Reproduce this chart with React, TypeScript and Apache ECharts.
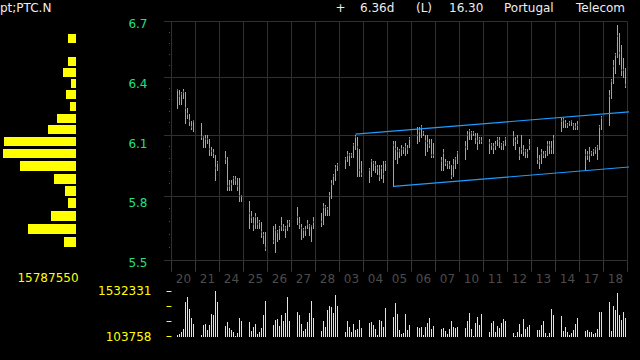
import React, { useEffect, useRef } from "react";
import * as echarts from "echarts";

// ---------- data ----------
const dayLabels = ["20", "21", "24", "25", "26", "27", "28", "03", "04", "05", "06", "07", "10", "11", "12", "13", "14", "17", "18"];
const BARS_PER_DAY = 9;

const highs = [
  6.34, 6.33, 6.32, 6.34, 6.32, 6.24, 6.21, 6.17, 6.18,
  6.16, 6.09, 6.10, 6.10, 6.08, 6.04, 6.03, 6.00, 5.97,
  6.02, 5.99, 5.88, 5.88, 5.90, 5.90, 5.89, 5.89, 5.80,
  5.78, 5.73, 5.70, 5.72, 5.70, 5.69, 5.68, 5.63, 5.63,
  5.66, 5.67, 5.64, 5.66, 5.70, 5.67, 5.66, 5.69, 5.69,
  5.75, 5.70, 5.67, 5.65, 5.66, 5.69, 5.67, 5.66, 5.70,
  5.72, 5.77, 5.76, 5.75, 5.82, 5.88, 5.91, 5.95, 5.96,
  5.99, 6.02, 6.01, 6.01, 6.06, 6.10, 6.09, 6.03, 5.97,
  5.94, 5.98, 5.97, 5.97, 5.95, 5.95, 5.95, 5.97, 5.97,
  6.07, 6.07, 6.04, 6.03, 6.05, 6.04, 6.06, 6.05, 6.09,
  6.14, 6.14, 6.15, 6.12, 6.10, 6.10, 6.08, 6.08, 6.06,
  5.99, 6.03, 5.98, 5.97, 5.97, 5.95, 5.98, 5.99, 6.02,
  6.07, 6.12, 6.13, 6.12, 6.12, 6.11, 6.11, 6.09, 6.09,
  6.08, 6.06, 6.06, 6.07, 6.09, 6.09, 6.06, 6.07, 6.09,
  6.12, 6.09, 6.10, 6.04, 6.10, 6.05, 6.03, 6.03, 6.08,
  6.04, 6.00, 6.03, 6.02, 6.02, 6.07, 6.07, 6.07, 6.10,
  6.19, 6.19, 6.18, 6.16, 6.17, 6.18, 6.16, 6.16, 6.17,
  6.03, 6.02, 6.04, 6.02, 6.03, 6.04, 6.05, 6.15, 6.20,
  6.33, 6.39, 6.49, 6.53, 6.68, 6.64, 6.57, 6.50, 6.45,
];

const lows = [
  6.24, 6.26, 6.26, 6.29, 6.16, 6.19, 6.15, 6.13, 6.12,
  6.08, 6.04, 6.04, 6.06, 6.00, 6.00, 5.99, 5.88, 5.93,
  5.96, 5.83, 5.83, 5.83, 5.86, 5.86, 5.83, 5.78, 5.78,
  5.65, 5.68, 5.64, 5.65, 5.65, 5.65, 5.61, 5.58, 5.55,
  5.58, 5.54, 5.59, 5.60, 5.64, 5.64, 5.61, 5.64, 5.66,
  5.67, 5.65, 5.60, 5.61, 5.62, 5.65, 5.62, 5.59, 5.65,
  5.66, 5.67, 5.71, 5.71, 5.71, 5.79, 5.86, 5.88, 5.93,
  5.94, 5.97, 5.95, 5.99, 5.99, 6.03, 5.90, 5.90, 5.90,
  5.87, 5.90, 5.93, 5.92, 5.91, 5.88, 5.89, 5.87, 5.93,
  5.85, 5.98, 5.96, 5.99, 6.00, 6.01, 6.00, 6.01, 6.04,
  6.06, 6.07, 6.09, 6.10, 6.00, 6.02, 6.04, 5.99, 5.99,
  5.93, 5.93, 5.95, 5.94, 5.94, 5.89, 5.90, 5.94, 5.96,
  5.98, 6.03, 6.08, 6.08, 6.10, 6.06, 6.03, 6.06, 6.06,
  6.01, 6.03, 6.01, 6.03, 6.05, 6.04, 6.03, 6.03, 6.05,
  6.05, 6.03, 6.06, 5.98, 6.01, 6.00, 5.99, 5.99, 6.03,
  5.96, 5.94, 5.96, 5.99, 5.99, 6.00, 6.01, 6.01, 6.01,
  6.12, 6.14, 6.14, 6.14, 6.15, 6.15, 6.13, 6.13, 6.13,
  5.93, 5.98, 5.97, 6.00, 6.00, 6.01, 5.98, 6.03, 6.13,
  6.15, 6.29, 6.37, 6.42, 6.51, 6.47, 6.41, 6.40, 6.35,
];

const closes = [
  6.33, 6.30, 6.31, 6.32, 6.24, 6.21, 6.17, 6.14, 6.17,
  6.09, 6.09, 6.08, 6.08, 6.03, 6.02, 6.01, 5.94, 5.96,
  5.98, 5.85, 5.85, 5.86, 5.89, 5.88, 5.85, 5.80, 5.80,
  5.72, 5.70, 5.67, 5.70, 5.67, 5.68, 5.63, 5.62, 5.56,
  5.59, 5.64, 5.63, 5.65, 5.66, 5.65, 5.65, 5.67, 5.68,
  5.70, 5.67, 5.65, 5.64, 5.64, 5.67, 5.66, 5.66, 5.68,
  5.68, 5.75, 5.75, 5.74, 5.80, 5.86, 5.90, 5.94, 5.95,
  5.98, 6.00, 6.00, 6.00, 6.05, 6.09, 6.04, 5.93, 5.91,
  5.93, 5.97, 5.96, 5.95, 5.94, 5.90, 5.94, 5.91, 5.96,
  6.05, 6.03, 6.02, 6.02, 6.03, 6.03, 6.04, 6.03, 6.08,
  6.10, 6.12, 6.14, 6.11, 6.07, 6.06, 6.05, 6.00, 6.00,
  5.97, 6.01, 5.96, 5.96, 5.95, 5.90, 5.95, 5.98, 6.01,
  6.04, 6.10, 6.12, 6.11, 6.11, 6.09, 6.07, 6.08, 6.07,
  6.06, 6.05, 6.04, 6.05, 6.08, 6.07, 6.05, 6.06, 6.08,
  6.09, 6.07, 6.08, 6.00, 6.03, 6.02, 6.02, 6.01, 6.05,
  5.98, 5.97, 6.01, 6.00, 6.01, 6.05, 6.05, 6.03, 6.08,
  6.17, 6.18, 6.16, 6.15, 6.16, 6.17, 6.15, 6.14, 6.15,
  6.00, 6.00, 6.00, 6.01, 6.02, 6.03, 6.04, 6.14, 6.19,
  6.30, 6.38, 6.46, 6.52, 6.62, 6.53, 6.44, 6.44, 6.36,
];

const volumes = [
  156000, 177000, 251000, 345000, 1196000, 1354000, 976000, 702000, 503000,
  156000, 471000, 503000, 314000, 471000, 818000, 786000, 1532331, 1196000,
  440000, 566000, 377000, 314000, 251000, 125000, 219000, 692000, 597000,
  566000, 282000, 408000, 503000, 188000, 251000, 377000, 786000, 1228000,
  471000, 629000, 660000, 440000, 786000, 597000, 850000, 1354000, 597000,
  881000, 786000, 503000, 282000, 345000, 566000, 850000, 1228000, 692000,
  282000, 597000, 408000, 944000, 1070000, 1039000, 850000, 1417000, 1070000,
  251000, 597000, 408000, 251000, 503000, 314000, 345000, 629000, 377000,
  534000, 566000, 471000, 345000, 156000, 629000, 597000, 408000, 1007000,
  723000, 1165000, 818000, 314000, 188000, 219000, 818000, 314000, 471000,
  408000, 377000, 408000, 156000, 408000, 534000, 692000, 345000, 440000,
  345000, 377000, 282000, 188000, 345000, 597000, 408000, 377000, 408000,
  377000, 597000, 850000, 345000, 135000, 534000, 723000, 471000, 818000,
  251000, 534000, 597000, 251000, 440000, 377000, 534000, 660000, 597000,
  219000, 125000, 251000, 503000, 188000, 660000, 345000, 408000, 471000,
  314000, 314000, 471000, 597000, 219000, 125000, 219000, 976000, 786000,
  755000, 282000, 408000, 251000, 156000, 219000, 314000, 503000, 692000,
  282000, 314000, 251000, 251000, 188000, 219000, 345000, 881000, 881000,
  1196000, 282000, 1070000, 944000, 1480000, 786000, 629000, 881000, 692000,
];

const priceTicks = [5.5, 5.8, 6.1, 6.4, 6.7];
const PRICE_MIN = 5.5;
const PRICE_MAX = 6.7;
const VOL_MIN = 103758;
const VOL_MAX = 1532331;
const volTicks = [103758, 579949, 1056140, 1532331];

const profileCenters = [5.58, 5.64, 5.70, 5.76, 5.82, 5.88, 5.94, 6.00, 6.06, 6.12, 6.18, 6.24, 6.30, 6.36, 6.42, 6.48, 6.54, 6.60];
const profileVolumes = [2595000, 10381000, 5407000, 1730000, 2379000, 4758000, 12111000, 15787550, 15571000, 6055000, 4109000, 1298000, 2163000, 1081000, 2811000, 1730000, 0, 1730000];
const PROFILE_BIN = 0.06;
const PROFILE_MAX = 15787550;

// channel lines: [time-axis position, price]
const upperChannel = [[184, 6.106], [465, 6.222]];
const lowerChannel = [[222, 5.848], [469, 5.947]];

// ---------- layout / style ----------
const DAY_W = 24;
const FIRST_OFF = 6;
const BAR_STEP = 2;
const X_SPAN = dayLabels.length * DAY_W;
const FONT = '"DejaVu Sans", sans-serif';
const GRID_C = "#303030";
const GREEN = "#22ee80";
const RED = "#ff3010";
const YELLOW = "#ffff00";
const LABEL_GREEN = "#22e080";
const BLUE = "#1e9cff";

const xOf = (i: number) =>
  Math.floor(i / BARS_PER_DAY) * DAY_W + FIRST_OFF + (i % BARS_PER_DAY) * BAR_STEP;
const L = Math.log;

export default function App() {
  const ref = useRef<HTMLDivElement>(null);
  useEffect(() => {
    if (!ref.current) return;
    const chart = echarts.init(ref.current, null, { renderer: "svg" });

    const minorTicks: number[][] = [];
    for (let t = 0; t < priceTicks.length - 1; t++) {
      for (let k = 1; k <= 4; k++) minorTicks.push([0, L(priceTicks[t] + 0.06 * k)]);
    }

    const left = 171.5;
    const option: any = {
      backgroundColor: "#000",
      animation: false,
      textStyle: { fontFamily: FONT },
      grid: [
        { left, top: 21.7, width: X_SPAN, height: 239 },
        { left, top: 24, width: X_SPAN, height: 239.1 },
        { left, top: 291.3, width: X_SPAN, height: 45.4 },
        { left: 3, top: 21.7, width: 73, height: 239 },
      ],
      xAxis: [
        {
          type: "category", gridIndex: 0, data: dayLabels, boundaryGap: true,
          axisLine: { show: false },
          axisTick: { show: true, length: 11, interval: 0, lineStyle: { color: "#383838" } },
          axisLabel: { interval: 0, color: "#4c4c4c", fontSize: 12, fontFamily: FONT, margin: 12 },
          splitLine: { show: true, interval: 0, lineStyle: { color: GRID_C, width: 1 } },
        },
        { type: "value", gridIndex: 0, min: 0, max: X_SPAN, show: false },
        { type: "value", gridIndex: 1, min: 0, max: 1, show: false },
        { type: "value", gridIndex: 2, min: 0, max: X_SPAN, show: false },
        { type: "value", gridIndex: 3, min: 0, max: PROFILE_MAX, inverse: true, show: false },
      ],
      yAxis: [
        { type: "value", gridIndex: 0, min: L(PRICE_MIN), max: L(PRICE_MAX), show: false },
        {
          type: "value", gridIndex: 1, min: 0, max: PRICE_MAX - PRICE_MIN, interval: 0.3,
          axisLine: { show: false }, axisTick: { show: false }, splitLine: { show: false },
          axisLabel: {
            color: LABEL_GREEN, fontSize: 12, fontFamily: FONT, margin: 24,
            formatter: (v: number) => (v + PRICE_MIN).toFixed(1),
          },
        },
        {
          type: "value", gridIndex: 2, min: VOL_MIN, max: VOL_MAX, offset: 2,
          axisLine: { show: false }, splitLine: { show: false },
          axisTick: { show: true, length: 5, customValues: volTicks, lineStyle: { color: YELLOW } },
          axisLabel: {
            customValues: [VOL_MIN, VOL_MAX], color: YELLOW, fontSize: 12, fontFamily: FONT, margin: 18,
            formatter: (v: number) => String(v),
          },
        },
        { type: "value", gridIndex: 3, min: L(PRICE_MIN), max: L(PRICE_MAX), show: false },
      ],
      series: [
        {
          type: "custom", xAxisIndex: 1, yAxisIndex: 0, silent: true, clip: false,
          data: priceTicks.map((p) => [0, L(p)]),
          encode: { x: 0, y: 1 },
          renderItem: (_p: any, api: any) => {
            const a = api.coord([0, api.value(1)]);
            const b = api.coord([X_SPAN, api.value(1)]);
            const y = Math.round(a[1] - 0.5) + 0.5;
            return { type: "line", shape: { x1: a[0] - 7.5, y1: y, x2: b[0], y2: y }, style: { stroke: GRID_C, lineWidth: 1 } };
          },
        },
        {
          type: "custom", xAxisIndex: 1, yAxisIndex: 0, silent: true, clip: false,
          data: minorTicks,
          encode: { x: 0, y: 1 },
          renderItem: (_p: any, api: any) => {
            const a = api.coord([0, api.value(1)]);
            return { type: "rect", shape: { x: Math.round(a[0]) - 3, y: Math.round(a[1]) - 1, width: 1, height: 1 }, style: { fill: "#4a4a4a" } };
          },
        },
        {
          type: "custom", xAxisIndex: 1, yAxisIndex: 0, silent: true,
          data: highs.map((h, i) => [xOf(i), L(h), L(lows[i]), L(closes[i])]),
          encode: { x: 0, y: [1, 2, 3] },
          renderItem: (_p: any, api: any) => {
            const x = api.value(0);
            const top = api.coord([x, api.value(1)]);
            const bot = api.coord([x, api.value(2)]);
            const cl = api.coord([x, api.value(3)]);
            const px = Math.round(top[0] - 0.5) + 0.5;
            return {
              type: "group",
              children: [
                { type: "line", shape: { x1: px, y1: Math.round(top[1]), x2: px, y2: Math.round(bot[1]) + 1 }, style: { stroke: GREEN, lineWidth: 1 } },
                { type: "rect", shape: { x: px - 0.5, y: Math.round(cl[1]) - 1, width: 1, height: 2 }, style: { fill: RED } },
              ],
            };
          },
        },
        {
          type: "line", xAxisIndex: 1, yAxisIndex: 0, silent: true, clip: false, symbol: "none",
          data: upperChannel.map(([x, p]) => [x, L(p)]),
          lineStyle: { color: BLUE, width: 1.2 },
        },
        {
          type: "line", xAxisIndex: 1, yAxisIndex: 0, silent: true, clip: false, symbol: "none",
          data: lowerChannel.map(([x, p]) => [x, L(p)]),
          lineStyle: { color: BLUE, width: 1.2 },
        },
        {
          type: "custom", xAxisIndex: 3, yAxisIndex: 2, silent: true,
          data: volumes.map((v, i) => [xOf(i), v]),
          encode: { x: 0, y: 1 },
          renderItem: (_p: any, api: any) => {
            const x = api.value(0);
            const top = api.coord([x, api.value(1)]);
            const base = api.coord([x, VOL_MIN]);
            const px = Math.round(top[0] - 0.5);
            const yt = Math.round(top[1]);
            return { type: "rect", shape: { x: px, y: yt, width: 1, height: Math.round(base[1]) - yt }, style: { fill: YELLOW } };
          },
        },
        {
          type: "custom", xAxisIndex: 4, yAxisIndex: 3, silent: true,
          data: profileCenters.map((c, i) => [profileVolumes[i], L(c + PROFILE_BIN / 2), L(c - PROFILE_BIN / 2)]),
          encode: { x: 0, y: [1, 2] },
          renderItem: (_p: any, api: any) => {
            if (!api.value(0)) return null;
            const a = api.coord([api.value(0), api.value(1)]);
            const b = api.coord([0, api.value(2)]);
            const y = Math.round(a[1]);
            const h = Math.round((b[1] - a[1]) * 0.78);
            const x = Math.round(a[0]);
            return { type: "rect", shape: { x, y, width: Math.round(b[0]) - x, height: h }, style: { fill: YELLOW } };
          },
        },
      ],
      graphic: [
        { type: "text", x: 0, y: 8, style: { text: "pt;PTC.N", fill: "#eeeeee", font: `12px ${FONT}`, verticalAlign: "middle", textVerticalAlign: "middle" } },
        { type: "text", x: 340.5, y: 8, style: { text: "+", fill: "#eeeeee", font: `12px ${FONT}`, align: "center", textAlign: "center", verticalAlign: "middle", textVerticalAlign: "middle" } },
        { type: "text", x: 360, y: 8, style: { text: "6.36d", fill: "#eeeeee", font: `12px ${FONT}`, verticalAlign: "middle", textVerticalAlign: "middle" } },
        { type: "text", x: 416, y: 8, style: { text: "(L)", fill: "#eeeeee", font: `12px ${FONT}`, verticalAlign: "middle", textVerticalAlign: "middle" } },
        { type: "text", x: 449, y: 8, style: { text: "16.30", fill: "#eeeeee", font: `12px ${FONT}`, verticalAlign: "middle", textVerticalAlign: "middle" } },
        { type: "text", x: 504, y: 8, style: { text: "Portugal", fill: "#eeeeee", font: `12px ${FONT}`, verticalAlign: "middle", textVerticalAlign: "middle" } },
        { type: "text", x: 576, y: 8, style: { text: "Telecom", fill: "#eeeeee", font: `12px ${FONT}`, verticalAlign: "middle", textVerticalAlign: "middle" } },
        { type: "text", x: 48, y: 278, style: { text: String(PROFILE_MAX), fill: YELLOW, font: `12px ${FONT}`, align: "center", textAlign: "center", verticalAlign: "middle", textVerticalAlign: "middle" } },
      ],
    };
    chart.setOption(option);
    return () => chart.dispose();
  }, []);
  return (
    <div
      ref={ref}
      style={{ position: "fixed", left: 0, top: 0, width: 640, height: 360, background: "#000" }}
    />
  );
}
